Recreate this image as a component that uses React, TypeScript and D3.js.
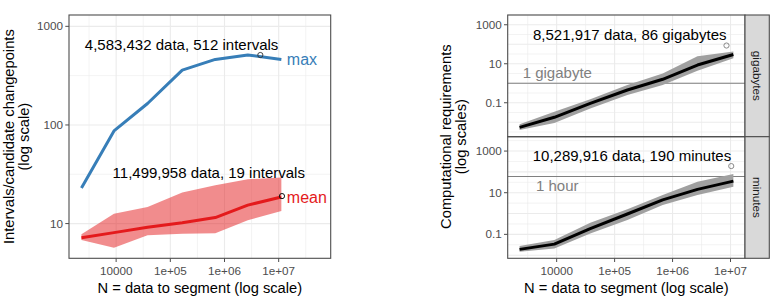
import React from "react";
import * as d3 from "d3";

// Bin centres: number of data points to segment
const binN = [2290, 9120, 38000, 166000, 676000, 2690000, 11200000];

// Left panel: intervals / candidate changepoints
const maxIntervals = [23, 87, 165, 360, 462, 512, 462];
const meanIntervals = [7.2, 8.1, 9.2, 10.2, 11.5, 15.4, 18.6];
const meanLow = [6.8, 5.7, 7.6, 7.9, 8.0, 10.8, 13.4];
const meanHigh = [7.8, 12.6, 14.7, 20.7, 24.5, 28.2, 29.3];

// Right panel: computational requirements
const gbMedian = [0.0055, 0.018, 0.093, 0.45, 1.6, 8.6, 30];
const gbLow = [0.004, 0.0093, 0.051, 0.25, 0.81, 4.4, 19];
const gbHigh = [0.0079, 0.035, 0.15, 0.81, 3.2, 24.5, 42];
const minMedian = [0.019, 0.034, 0.19, 0.95, 4.5, 14.5, 36];
const minLow = [0.0145, 0.021, 0.11, 0.49, 2.6, 7.8, 19.5];
const minHigh = [0.0275, 0.054, 0.36, 1.6, 7.8, 34, 79];

// Highlighted extreme observations
const maxPoint = { n: 4583432, v: 512, label: "4,583,432 data, 512 intervals" };
const meanPoint = { n: 11499958, v: 19, label: "11,499,958 data, 19 intervals" };
const gbPoint = { n: 8521917, v: 86, label: "8,521,917 data, 86 gigabytes" };
const minPoint = { n: 10289916, v: 190, label: "10,289,916 data, 190 minutes" };

// Reference lines
const gbRef = { v: 1, label: "1 gigabyte" };
const minRef = { v: 60, label: "1 hour" };

const xTicks = [1e4, 1e5, 1e6, 1e7];
const xTickLabels = ["10000", "1e+05", "1e+06", "1e+07"];
const leftYTicks = [10, 100, 1000];
const leftYTickLabels = ["10", "100", "1000"];
const rightYTicks = [0.1, 10, 1000];
const rightYTickLabels = ["0.1", "10", "1000"];

const FONT = "'Liberation Sans', Arial, Helvetica, sans-serif";
const GRID = "#ebebeb";
const BORDER = "#4d4d4d";
const TICKTEXT = "#4d4d4d";
const BLUE = "#377eb8";
const RED = "#e41a1c";
const REFGRAY = "#808080";

type Scale = d3.ScaleLogarithmic<number, number>;

function logMinor(scale: Scale) {
  const [a, b] = scale.domain().map(Math.log10);
  const out: number[] = [];
  for (let k = Math.floor(a) - 1; k <= Math.ceil(b); k++) {
    const v = k + 0.5;
    if (v >= a && v <= b) out.push(Math.pow(10, v));
  }
  return out;
}
function logMajor(scale: Scale, step = 1) {
  const [a, b] = scale.domain().map(Math.log10);
  const out: number[] = [];
  for (let k = Math.ceil(a); k <= Math.floor(b); k++) out.push(Math.pow(10, k));
  return out;
}

function Grid({ x, y, yStepMinor }: { x: Scale; y: Scale; yStepMinor?: boolean }) {
  const [x0, x1] = x.range();
  const [y1, y0] = y.range();
  const yMaj = logMajor(y);
  const yMin = logMinor(y);
  return (
    <g>
      {logMinor(x).map((v) => (
        <line key={"xm" + v} x1={x(v)} x2={x(v)} y1={y0} y2={y1} stroke={GRID} strokeWidth={0.6} />
      ))}
      {yMin.map((v) => (
        <line key={"ym" + v} x1={x0} x2={x1} y1={y(v)} y2={y(v)} stroke={GRID} strokeWidth={0.6} />
      ))}
      {logMajor(x).map((v) => (
        <line key={"xM" + v} x1={x(v)} x2={x(v)} y1={y0} y2={y1} stroke={GRID} strokeWidth={1.1} />
      ))}
      {yMaj.map((v) => (
        <line key={"yM" + v} x1={x0} x2={x1} y1={y(v)} y2={y(v)} stroke={GRID} strokeWidth={yStepMinor && Math.round(Math.log10(v)) % 2 === 0 ? 0.6 : 1.1} />
      ))}
    </g>
  );
}

function YTicks({ x, y, ticks, labels }: { x: number; y: Scale; ticks: number[]; labels: string[] }) {
  return (
    <g>
      {ticks.map((t, i) => (
        <g key={t}>
          <line x1={x - 3.7} x2={x} y1={y(t)} y2={y(t)} stroke={BORDER} strokeWidth={1} />
          <text x={x - 6} y={y(t)} dy="0.35em" textAnchor="end" fontSize={11.7} fill={TICKTEXT} fontFamily={FONT}>
            {labels[i]}
          </text>
        </g>
      ))}
    </g>
  );
}

function XTicks({ x, y0 }: { x: Scale; y0: number }) {
  return (
    <g>
      {xTicks.map((t, i) => (
        <g key={t}>
          <line x1={x(t)} x2={x(t)} y1={y0} y2={y0 + 3.7} stroke={BORDER} strokeWidth={1} />
          <text x={x(t)} y={y0 + 16.5} textAnchor="middle" fontSize={11.7} fill={TICKTEXT} fontFamily={FONT}>
            {xTickLabels[i]}
          </text>
        </g>
      ))}
    </g>
  );
}

export default function App() {
  // Left panel geometry
  const L = { left: 69, right: 330.7, top: 15, bottom: 258.3 };
  const xL = d3.scaleLog().domain([Math.pow(10, 3.13), Math.pow(10, 7.96)]).range([L.left, L.right]);
  const yL = d3.scaleLog().domain([Math.pow(10, 0.648), Math.pow(10, 3.115)]).range([L.bottom, L.top]);

  // Right panel geometry (two stacked facets)
  const R = { left: 507.7, right: 745, top: 15, mid: 136.7, bottom: 258.3, stripRight: 769.3 };
  const xR = d3.scaleLog().domain([Math.pow(10, 3.155), Math.pow(10, 7.25)]).range([R.left, R.right]);
  const yTop = d3.scaleLog().domain([Math.pow(10, -2.74), Math.pow(10, 3.5)]).range([R.mid, R.top]);
  const yBot = d3.scaleLog().domain([Math.pow(10, -2.15), Math.pow(10, 3.69)]).range([R.bottom, R.mid]);

  const idx = binN.map((_, i) => i);

  const lineL = (vals: number[]) =>
    d3.line<number>().x((i) => xL(binN[i])).y((i) => yL(vals[i]))(idx) || "";
  const areaL = (lo: number[], hi: number[]) =>
    d3.area<number>().x((i) => xL(binN[i])).y0((i) => yL(lo[i])).y1((i) => yL(hi[i]))(idx) || "";
  const lineR = (y: Scale, vals: number[]) =>
    d3.line<number>().x((i) => xR(binN[i])).y((i) => y(vals[i]))(idx) || "";
  const areaR = (y: Scale, lo: number[], hi: number[]) =>
    d3.area<number>().x((i) => xR(binN[i])).y0((i) => y(lo[i])).y1((i) => y(hi[i]))(idx) || "";

  const lastI = binN.length - 1;

  return (
    <svg width={776} height={304} style={{ position: "absolute", left: 0, top: 0, background: "#fff" }} fontFamily={FONT}>
      <rect x={0} y={0} width={776} height={304} fill="#fff" />

      {/* ---------- Left panel ---------- */}
      <rect x={L.left} y={L.top} width={L.right - L.left} height={L.bottom - L.top} fill="#fff" />
      <Grid x={xL} y={yL} />
      <path d={areaL(meanLow, meanHigh)} fill={RED} fillOpacity={0.5} />
      <path d={lineL(maxIntervals)} fill="none" stroke={BLUE} strokeWidth={3} strokeLinejoin="round" />
      <path d={lineL(meanIntervals)} fill="none" stroke={RED} strokeWidth={3} strokeLinejoin="round" />
      <circle cx={xL(maxPoint.n)} cy={yL(maxPoint.v)} r={2.6} fill="none" stroke="#333" strokeWidth={0.9} />
      <circle cx={xL(meanPoint.n)} cy={yL(meanPoint.v)} r={2.6} fill="none" stroke="#111" strokeWidth={1} />
      <text x={xL(maxPoint.n) + 18} y={yL(maxPoint.v) - 5} textAnchor="end" fontSize={15} fill="#000">
        {maxPoint.label}
      </text>
      <text x={xL(meanPoint.n) + 23} y={yL(meanPoint.v) - 18.5} textAnchor="end" fontSize={15} fill="#000">
        {meanPoint.label}
      </text>
      <text x={xL(binN[lastI]) + 5.5} y={yL(maxIntervals[lastI])} dy="0.35em" fontSize={16} fill={BLUE}>
        max
      </text>
      <text x={xL(binN[lastI]) + 5.5} y={yL(meanIntervals[lastI])} dy="0.35em" fontSize={16} fill={RED}>
        mean
      </text>
      <rect x={L.left} y={L.top} width={L.right - L.left} height={L.bottom - L.top} fill="none" stroke={BORDER} strokeWidth={1.1} />
      <YTicks x={L.left} y={yL} ticks={leftYTicks} labels={leftYTickLabels} />
      <XTicks x={xL} y0={L.bottom} />
      <text x={(L.left + L.right) / 2} y={293} textAnchor="middle" fontSize={14.7} fill="#000">
        N = data to segment (log scale)
      </text>
      <text transform={`translate(14,${(L.top + L.bottom) / 2}) rotate(-90)`} textAnchor="middle" fontSize={14.7} fill="#000">
        Intervals/candidate changepoints
      </text>
      <text transform={`translate(29,${(L.top + L.bottom) / 2}) rotate(-90)`} textAnchor="middle" fontSize={14.7} fill="#000">
        (log scale)
      </text>

      {/* ---------- Right panel: gigabytes facet ---------- */}
      <Grid x={xR} y={yTop} />
      <line x1={R.left} x2={R.right} y1={yTop(gbRef.v)} y2={yTop(gbRef.v)} stroke={REFGRAY} strokeWidth={1.1} />
      <text x={R.left + 15} y={yTop(gbRef.v) - 5} fontSize={15} fill={REFGRAY}>
        {gbRef.label}
      </text>
      <path d={areaR(yTop, gbLow, gbHigh)} fill="#a0a0a0" />
      <path d={lineR(yTop, gbMedian)} fill="none" stroke="#000" strokeWidth={3} strokeLinejoin="round" />
      <circle cx={xR(gbPoint.n)} cy={yTop(gbPoint.v)} r={2.6} fill="none" stroke="#8a8a8a" strokeWidth={1} />
      <text x={xR(gbPoint.n)} y={yTop(gbPoint.v) - 6} textAnchor="end" fontSize={15} fill="#000">
        {gbPoint.label}
      </text>

      {/* ---------- Right panel: minutes facet ---------- */}
      <Grid x={xR} y={yBot} />
      <line x1={R.left} x2={R.right} y1={yBot(minRef.v)} y2={yBot(minRef.v)} stroke={REFGRAY} strokeWidth={1.1} />
      <text x={R.left + 28.3} y={yBot(minRef.v) + 14} fontSize={15} fill={REFGRAY}>
        {minRef.label}
      </text>
      <path d={areaR(yBot, minLow, minHigh)} fill="#a0a0a0" />
      <path d={lineR(yBot, minMedian)} fill="none" stroke="#000" strokeWidth={3} strokeLinejoin="round" />
      <circle cx={xR(minPoint.n)} cy={yBot(minPoint.v)} r={2.6} fill="none" stroke="#8a8a8a" strokeWidth={1} />
      <text x={xR(minPoint.n)} y={yBot(minPoint.v) - 5} textAnchor="end" fontSize={15} fill="#000">
        {minPoint.label}
      </text>

      {/* panel borders */}
      <rect x={R.left} y={R.top} width={R.right - R.left} height={R.mid - R.top} fill="none" stroke={BORDER} strokeWidth={1.1} />
      <rect x={R.left} y={R.mid} width={R.right - R.left} height={R.bottom - R.mid} fill="none" stroke={BORDER} strokeWidth={1.1} />

      {/* facet strips */}
      <rect x={R.right} y={R.top} width={R.stripRight - R.right} height={R.mid - R.top} fill="#d9d9d9" stroke={BORDER} strokeWidth={1.1} />
      <rect x={R.right} y={R.mid} width={R.stripRight - R.right} height={R.bottom - R.mid} fill="#d9d9d9" stroke={BORDER} strokeWidth={1.1} />
      <text transform={`translate(${(R.right + R.stripRight) / 2},${(R.top + R.mid) / 2}) rotate(90)`} dy="0.35em" textAnchor="middle" fontSize={11.7} fill="#1a1a1a">
        gigabytes
      </text>
      <text transform={`translate(${(R.right + R.stripRight) / 2},${(R.mid + R.bottom) / 2}) rotate(90)`} dy="0.35em" textAnchor="middle" fontSize={11.7} fill="#1a1a1a">
        minutes
      </text>

      <YTicks x={R.left} y={yTop} ticks={rightYTicks} labels={rightYTickLabels} />
      <YTicks x={R.left} y={yBot} ticks={rightYTicks} labels={rightYTickLabels} />
      <XTicks x={xR} y0={R.bottom} />
      <text x={(R.left + R.right) / 2} y={293} textAnchor="middle" fontSize={14.7} fill="#000">
        N = data to segment (log scale)
      </text>
      <text transform={`translate(451,${(R.top + R.bottom) / 2}) rotate(-90)`} textAnchor="middle" fontSize={14.7} fill="#000">
        Computational requirements
      </text>
      <text transform={`translate(466,${(R.top + R.bottom) / 2}) rotate(-90)`} textAnchor="middle" fontSize={14.7} fill="#000">
        (log scales)
      </text>
    </svg>
  );
}
